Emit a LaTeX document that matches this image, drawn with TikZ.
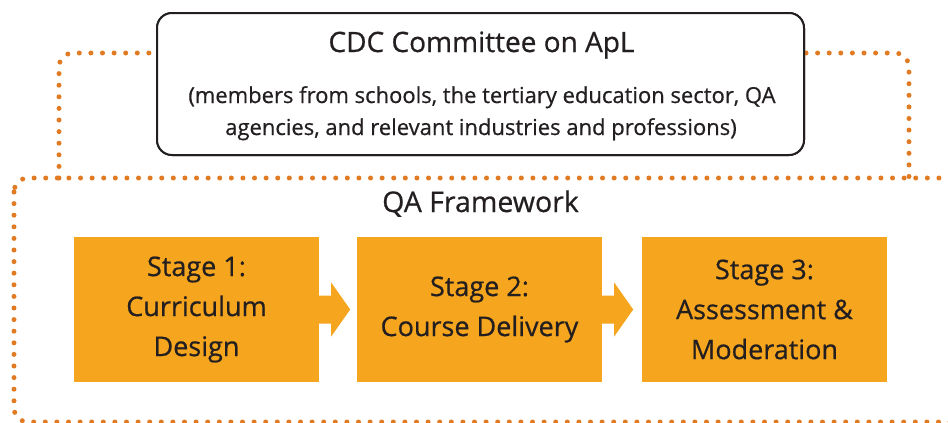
\documentclass[tikz,border=0pt]{standalone}
\usepackage{fontspec}
\setmainfont{Open Sans}[FakeBold=0.6]
\usetikzlibrary{calc}
\definecolor{stagefill}{HTML}{F6A51E}
\definecolor{dotcol}{HTML}{E07B24}
\definecolor{ink}{HTML}{231F20}
\tikzset{
  dotline/.style={draw=dotcol, line width=5pt, line cap=round, dash pattern=on 0pt off 11.6pt, rounded corners=14pt},
  stagebox/.style={fill=stagefill, minimum width=245pt, minimum height=145pt, inner sep=0pt, align=center, text=ink, font=\fontsize{27}{40}\selectfont},
  cdcbox/.style={draw=ink, fill=white, line width=2pt, rounded corners=15pt, minimum width=647pt, minimum height=142pt, inner sep=0pt},
  txt/.style={text=ink, inner sep=0pt, anchor=base},
}
\newcommand\blockarr[1]{%
  \fill[stagefill] ($(#1.east)+(-1,-14)$) -- ($(#1.east)+(12,-14)$) -- ($(#1.east)+(12,-27)$) -- ($(#1.east)+(31,0)$) -- ($(#1.east)+(12,27)$) -- ($(#1.east)+(12,14)$) -- ($(#1.east)+(-1,14)$) -- cycle;}
\begin{document}
\begin{tikzpicture}[x=1pt,y=-1pt]
\useasboundingbox (0,0) rectangle (948,423);
% lower QA frame
\draw[dotline] (14,178) rectangle (962,422);
% upper connectors
\coordinate (lt) at (59,178);
\coordinate (rt) at (909,178);
\node[cdcbox] (cdc) at (480.5,84) {};
\draw[dotline] (lt) |- ($(cdc.north west)+(-1,41)$);
\draw[dotline] ($(cdc.north east)+(1,41)$) -| (rt);
\node[cdcbox] (cdc) at (480.5,84) {};
\node[txt, font=\fontsize{28}{32}\selectfont] (cdct) at (481.5,52) {CDC Committee on ApL};
\node[txt, font=\fontsize{22}{32}\selectfont] (cdcs1) at (482,103) {(members from schools, the tertiary education sector, QA};
\node[txt, font=\fontsize{22}{32}\selectfont] (cdcs2) at (481,135) {agencies, and relevant industries and professions)};
\node[txt, font=\fontsize{28.5}{32}\selectfont] (qa) at (480.5,212) {QA Framework};
% stages
\node[stagebox] (s1) at (196.5,309.5) {Stage 1:\\Curriculum\\Design};
\node[stagebox] (s2) at (479.5,309.5) {Stage 2:\\Course Delivery};
\node[stagebox] (s3) at (764.5,309.5) {Stage 3:\\Assessment \&\\Moderation};
\blockarr{s1}
\blockarr{s2}
\end{tikzpicture}
\end{document}
